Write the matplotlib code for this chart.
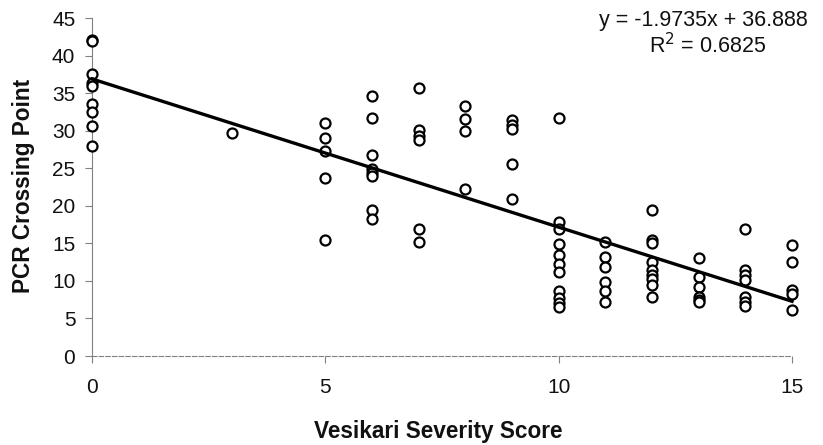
import matplotlib
matplotlib.use("Agg")
import matplotlib.pyplot as plt
import numpy as np

plt.rcParams['font.family'] = ['Liberation Sans', 'DejaVu Sans']

# Vesikari score -> PCR crossing point values
scores = [0]*9 + [3] + [5]*5 + [6]*8 + [7]*6 + [8]*4 + [9]*5 + [10]*11 + [11]*6 + [12]*9 + [13]*6 + [14]*7 + [15]*5
crossing = [42.1, 41.9, 37.6, 36.3, 35.9, 33.6, 32.5, 30.6, 28.0,
            29.7,
            31.0, 29.0, 27.3, 23.7, 15.5,
            34.6, 31.7, 26.8, 24.9, 24.4, 24.0, 19.5, 18.3,
            35.7, 30.1, 29.3, 28.8, 16.9, 15.2,
            33.3, 31.5, 29.9, 22.2,
            31.4, 30.8, 30.2, 25.5, 20.9,
            31.7, 17.9, 16.9, 14.9, 13.4, 12.3, 11.2, 8.6, 7.7, 7.1, 6.5,
            15.2, 13.2, 11.9, 9.9, 8.6, 7.2,
            19.4, 15.4, 15.0, 12.5, 11.5, 10.8, 10.3, 9.5, 7.9,
            13.0, 10.5, 9.2, 7.8, 7.4, 7.2,
            16.9, 11.5, 10.8, 10.1, 7.8, 7.2, 6.6,
            14.8, 12.5, 8.8, 8.3, 6.1]
slope = -1.9735
intercept = 36.888
r2 = 0.6825
x_ticks = [0, 5, 10, 15]
y_ticks = list(range(0, 50, 5))

fig = plt.figure(figsize=(8.23, 4.45), dpi=100)
ax = fig.add_axes([92/823, 1-356/445, 700/823, 338/445])

ax.plot(scores, crossing, 'o', mfc='white', mec='black', mew=1.6, ms=7.2,
        linestyle='none', clip_on=False, zorder=3)
xl = np.array([0, 15])
ax.plot(xl, slope*xl + intercept, color='black', lw=2.4, zorder=4, clip_on=False)

ax.set_xlim(0, 15)
ax.set_ylim(0, 45)
ax.set_xticks(x_ticks)
ax.set_yticks(y_ticks)
ax.spines['top'].set_visible(False)
ax.spines['right'].set_visible(False)
ax.spines['left'].set_color('#808080')
ax.spines['bottom'].set_color('#808080')
ax.spines['bottom'].set_linestyle((0, (4, 2)))
ax.spines['bottom'].set_linewidth(0.8)
ax.tick_params(axis='both', colors='#808080', labelcolor='#111111', labelsize=15,
               length=5, width=0.8, direction='out')
ax.tick_params(axis='y', pad=7)
ax.tick_params(axis='x', pad=11)

fig.text(438/823, 1-438/445, 'Vesikari Severity Score', ha='center', va='baseline',
         fontsize=16.3, fontweight='bold', color='#111111')
fig.text(24/823, 1-186/445, 'PCR Crossing Point', ha='center', va='center', rotation=90,
         fontsize=16.3, fontweight='bold', color='#111111')

fig.text(703/823, 1-26/445, 'y = -1.9735x + 36.888', ha='center', va='baseline',
         fontsize=15.5, color='#111111')
fig.text(708/823, 1-53/445, 'R$^2$ = 0.6825', ha='center', va='baseline',
         fontsize=15.5, color='#111111')

fig.savefig('out.png', dpi=100)
